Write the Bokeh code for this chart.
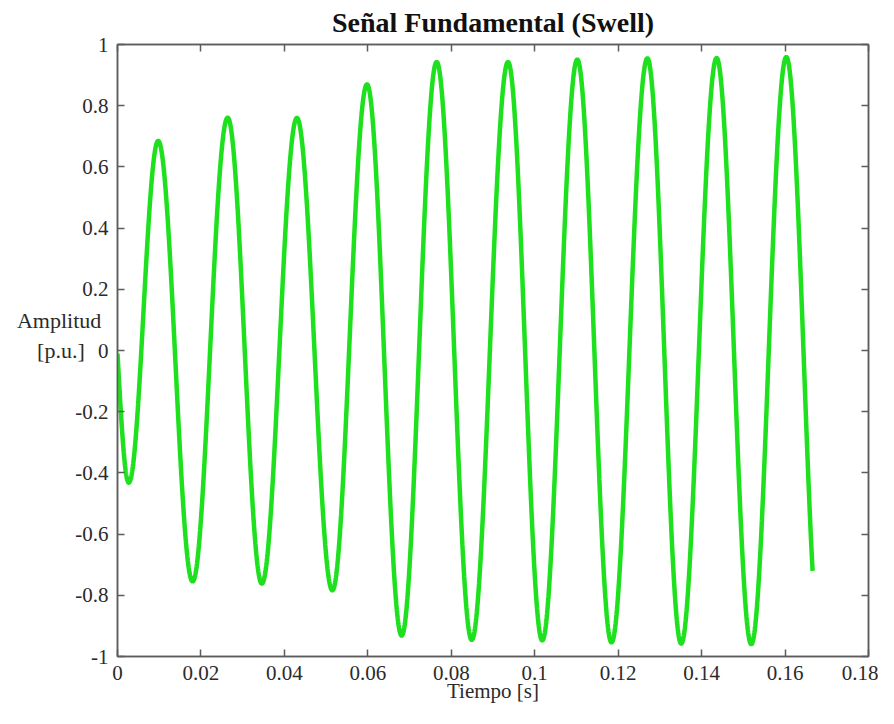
import numpy as np
from bokeh.plotting import figure
from bokeh.models import Range1d, FixedTicker, LinearAxis, ColumnDataSource
from bokeh.embed import file_html
from bokeh.resources import INLINE

# ---- data: start point, successive extrema, end point ----
ext_t = [0.0, 0.0027, 0.00975, 0.0180, 0.0264, 0.0346, 0.0430, 0.0515, 0.0598,
         0.0681, 0.0765, 0.0849, 0.0936, 0.1018, 0.1102, 0.1184, 0.1270, 0.1351,
         0.1436, 0.1519, 0.1603, 0.1666]
ext_v = [-0.01, -0.432, 0.685, -0.755, 0.761, -0.762, 0.760, -0.784, 0.870,
         -0.932, 0.943, -0.946, 0.943, -0.948, 0.951, -0.954, 0.955, -0.958,
         0.956, -0.960, 0.959, -0.72]

x_ticks = [0, 0.02, 0.04, 0.06, 0.08, 0.1, 0.12, 0.14, 0.16, 0.18]
x_tick_labels = ["0", "0.02", "0.04", "0.06", "0.08", "0.1", "0.12", "0.14", "0.16", "0.18"]
y_ticks = [-1, -0.8, -0.6, -0.4, -0.2, 0, 0.2, 0.4, 0.6, 0.8, 1]
y_tick_labels = ["-1", "-0.8", "-0.6", "-0.4", "-0.2", "0", "0.2", "0.4", "0.6", "0.8", "1"]

title_text = "Señal Fundamental (Swell)"
xlabel_text = "Tiempo [s]"
ylabel_lines = ["Amplitud", "[p.u.]"]

# ---- waveform drawn through the extrema (smooth half-cycle shapes) ----
n = len(ext_t)
half = float(np.mean(np.diff(ext_t[1:-1])))
ts, vs = [], []
for i in range(n - 1):
    t0, t1 = ext_t[i], ext_t[i + 1]
    a, b = ext_v[i], ext_v[i + 1]
    s = np.linspace(0.0, 1.0, 80)
    if i == 0:
        w = np.sin(np.pi / 2 * s)
    elif i == n - 2:
        f = (t1 - t0) / half
        w = (1 - np.cos(np.pi * f * s)) / (1 - np.cos(np.pi * f))
    else:
        w = (1 - np.cos(np.pi * s)) / 2
    seg_t = t0 + (t1 - t0) * s
    seg_v = a + (b - a) * w
    if i > 0:
        seg_t, seg_v = seg_t[1:], seg_v[1:]
    ts.extend(seg_t.tolist())
    vs.extend(seg_v.tolist())

source = ColumnDataSource(data=dict(t=ts, v=vs))

AX = "#5c5c5c"
TXT = "#2b2b2b"
FONT = "Liberation Serif"

p = figure(width=878, height=708, x_range=Range1d(0, 0.18), y_range=Range1d(-1, 1),
           output_backend="svg", toolbar_location=None,
           min_border_left=117, min_border_right=10, min_border_top=44, min_border_bottom=52,
           background_fill_color="white", border_fill_color="white",
           outline_line_color=AX, outline_line_width=1.5)
p.grid.visible = False

p.title.text = title_text
p.title.align = "center"
p.title.vertical_align = "top"
p.title.text_font = FONT
p.title.text_font_size = "28px"
p.title.text_font_style = "bold"
p.title.text_color = "#111111"
p.title.standoff = 10

p.line("t", "v", source=source, line_color="#1ee01e", line_width=4.5)

def style_axis(ax, ticks, labels, show):
    ax.ticker = FixedTicker(ticks=ticks)
    ax.axis_line_color = AX
    ax.axis_line_width = 1.5
    ax.major_tick_line_color = AX
    ax.major_tick_line_width = 1.5
    ax.major_tick_in = 7
    ax.major_tick_out = 0
    ax.minor_tick_in = 0
    ax.minor_tick_out = 0
    ax.major_label_text_font = FONT
    ax.major_label_text_color = TXT
    if show:
        ax.major_label_overrides = {t: l for t, l in zip(ticks, labels)}
        ax.major_label_text_font_size = "21px"
    else:
        ax.major_label_overrides = {t: "" for t in ticks}
        ax.major_label_text_font_size = "1px"
        ax.major_label_standoff = 0

xa = p.xaxis[0]
ya = p.yaxis[0]
style_axis(xa, x_ticks, x_tick_labels, True)
style_axis(ya, y_ticks, y_tick_labels, True)
xa.major_label_standoff = 9
ya.major_label_standoff = 9

xa.axis_label = xlabel_text
xa.axis_label_text_font = FONT
xa.axis_label_text_font_size = "21px"
xa.axis_label_text_font_style = "normal"
xa.axis_label_text_color = TXT
xa.axis_label_standoff = -4

ya.axis_label_text_font = FONT
ya.axis_label_text_font_size = "22px"
ya.axis_label_text_font_style = "normal"
ya.axis_label_text_color = TXT
NB = "\u00a0"
try:
    ya.axis_label_orientation = "horizontal"
    ya.axis_label = ylabel_lines[0] + "\n" + ylabel_lines[1] + NB * 3 + "\n" + NB
    ya.axis_label_standoff = -29
except Exception:
    ya.axis_label = " ".join(ylabel_lines)
    ya.axis_label_standoff = 8

top_ax = LinearAxis()
right_ax = LinearAxis()
style_axis(top_ax, x_ticks, x_tick_labels, False)
style_axis(right_ax, y_ticks, y_tick_labels, False)
p.add_layout(top_ax, "above")
p.add_layout(right_ax, "right")

open("out.html", "w").write(file_html(p, INLINE))
